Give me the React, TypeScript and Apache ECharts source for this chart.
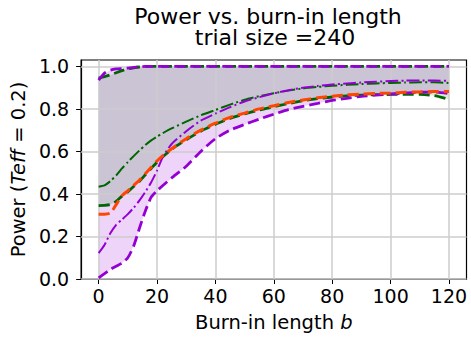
import React, { useEffect, useRef } from 'react';
import * as echarts from 'echarts';

const burnIn = [0, 2, 4, 6, 8, 10, 12, 14, 16, 18, 20, 22, 25, 30, 35, 40, 45, 50, 55, 60, 65, 70, 75, 80, 85, 90, 95, 100, 105, 110, 115, 120];

const greenMean = [0.434, 0.44, 0.46, 0.487, 0.52, 0.55, 0.578, 0.605, 0.63, 0.652, 0.67, 0.686, 0.708, 0.74, 0.77, 0.795, 0.82, 0.843, 0.86, 0.874, 0.886, 0.896, 0.903, 0.909, 0.913, 0.917, 0.92, 0.922, 0.924, 0.925, 0.925, 0.922];
const greenLow = [0.345, 0.346, 0.35, 0.365, 0.39, 0.41, 0.435, 0.46, 0.49, 0.52, 0.55, 0.575, 0.61, 0.655, 0.695, 0.728, 0.755, 0.776, 0.795, 0.81, 0.825, 0.838, 0.848, 0.856, 0.861, 0.865, 0.867, 0.868, 0.869, 0.868, 0.862, 0.845];
const greenHigh = [0.945, 0.952, 0.96, 0.97, 0.98, 0.988, 0.993, 0.997, 0.999, 1, 1, 1, 1, 1, 1, 1, 1, 1, 1, 1, 1, 1, 1, 1, 1, 1, 1, 1, 1, 1, 1, 1];
const purpleMean = [0.122, 0.16, 0.215, 0.255, 0.28, 0.305, 0.335, 0.37, 0.41, 0.455, 0.51, 0.575, 0.635, 0.695, 0.745, 0.778, 0.808, 0.835, 0.855, 0.873, 0.888, 0.9, 0.908, 0.915, 0.92, 0.924, 0.928, 0.931, 0.933, 0.934, 0.933, 0.932];
const purpleLow = [0.005, 0.025, 0.045, 0.06, 0.075, 0.1, 0.155, 0.24, 0.32, 0.385, 0.415, 0.44, 0.475, 0.53, 0.6, 0.66, 0.7, 0.727, 0.752, 0.775, 0.797, 0.812, 0.826, 0.84, 0.85, 0.859, 0.865, 0.87, 0.875, 0.879, 0.879, 0.872];
const purpleHigh = [0.935, 0.968, 0.982, 0.988, 0.99, 0.992, 0.995, 0.998, 1, 1, 1, 1, 1, 1, 1, 1, 1, 1, 1, 1, 1, 1, 1, 1, 1, 1, 1, 1, 1, 1, 1, 1];
const orangeLine = [0.305, 0.305, 0.31, 0.35, 0.392, 0.415, 0.44, 0.465, 0.495, 0.525, 0.555, 0.58, 0.613, 0.66, 0.7, 0.733, 0.76, 0.78, 0.8, 0.815, 0.83, 0.842, 0.852, 0.86, 0.866, 0.87, 0.873, 0.875, 0.878, 0.88, 0.882, 0.882];

const xTicks = [0, 20, 40, 60, 80, 100, 120];
const yTicks = [0, 0.2, 0.4, 0.6, 0.8, 1.0];

const titleLine1 = 'Power vs. burn-in length';
const titleLine2 = 'trial size =240';

const FONT = 'DejaVu Sans';
const GREEN = '#006400';
const PURPLE = '#9400D3';
const ORANGE = '#FF4500';

const pts = (arr: number[]) => burnIn.map((b, i) => [b, arr[i]]);

const DASHED = [11, 5];
const DASHDOT = [12.8, 3.2, 2, 3.2];

function lineSeries(name: string, arr: number[], color: string, dash: number[], width: number, z: number) {
  return {
    name,
    type: 'line',
    data: pts(arr),
    showSymbol: false,
    symbol: 'none',
    smooth: 0.2,
    z,
    lineStyle: { color, width, type: dash, cap: 'butt' },
  };
}

function bandSeries(name: string, lo: number[], hi: number[], fill: string) {
  return {
    name,
    type: 'custom',
    z: 1,
    silent: true,
    data: burnIn.map((b, i) => [b, lo[i], hi[i]]),
    encode: { x: 0, y: [1, 2] },
    renderItem: (params: any, api: any) => {
      if (params.dataIndex !== 0) return null;
      const top = burnIn.map((b, i) => api.coord([b, hi[i]]));
      const bottom = burnIn.map((b, i) => api.coord([b, lo[i]])).reverse();
      return {
        type: 'polygon',
        shape: { points: [...top, ...bottom] },
        style: { fill, stroke: 'none' },
      };
    },
  };
}

export default function App() {
  const ref = useRef<HTMLDivElement>(null);
  useEffect(() => {
    const chart = echarts.init(ref.current!, null, { renderer: 'svg' });
    const option: any = {
      animation: false,
      backgroundColor: '#fff',
      textStyle: { fontFamily: FONT },
      graphic: [
        {
          type: 'text',
          x: 268,
          y: 6,
          style: { text: titleLine1, fill: '#000', font: `22px "${FONT}"`, lineHeight: 21, textAlign: 'center', textVerticalAlign: 'top' },
        },
        {
          type: 'text',
          x: 275,
          y: 27,
          style: { text: titleLine2, fill: '#000', font: `22px "${FONT}"`, lineHeight: 21, textAlign: 'center', textVerticalAlign: 'top' },
        },
      ],
      grid: {
        left: 79,
        top: 60,
        width: 387.5,
        height: 220,
        show: true,
        borderColor: '#000',
        borderWidth: 1.2,
        backgroundColor: 'transparent',
        containLabel: false,
      },
      xAxis: {
        type: 'value',
        min: -6,
        max: 126,
        name: 'Burn-in length {i|b}',
        nameLocation: 'middle',
        nameGap: 33,
        nameTextStyle: {
          fontSize: 19.5,
          color: '#000',
          fontFamily: FONT,
          rich: { i: { fontStyle: 'italic', fontSize: 19.5, color: '#000', fontFamily: FONT } },
        },
        axisLine: { show: true, onZero: false, lineStyle: { color: '#000', width: 1.2 } },
        axisTick: { show: true, length: 5, customValues: xTicks, lineStyle: { color: '#000', width: 1 } },
        axisLabel: { customValues: xTicks, fontSize: 19, color: '#000', fontFamily: FONT, margin: 7 },
        splitLine: { show: false },
      },
      yAxis: {
        type: 'value',
        min: 0,
        max: 1.03,
        name: 'Power ({i|Teff} = 0.2)',
        nameLocation: 'middle',
        nameGap: 48,
        nameTextStyle: {
          fontSize: 19.5,
          color: '#000',
          fontFamily: FONT,
          rich: { i: { fontStyle: 'italic', fontSize: 19.5, color: '#000', fontFamily: FONT } },
        },
        axisLine: { show: true, onZero: false, lineStyle: { color: '#000', width: 1.2 } },
        axisTick: { show: true, length: 5, customValues: yTicks, lineStyle: { color: '#000', width: 1 } },
        axisLabel: {
          customValues: yTicks,
          fontSize: 19,
          color: '#000',
          fontFamily: FONT,
          margin: 12,
          formatter: (v: number) => v.toFixed(1),
        },
        splitLine: { show: false },
      },
      series: [
        bandSeries('purpleBand', purpleLow, purpleHigh, 'rgba(148,0,211,0.17)'),
        bandSeries('greenBand', greenLow, greenHigh, 'rgba(0,100,0,0.14)'),
        {
          name: 'gridlines',
          type: 'line',
          data: [],
          z: 1.5,
          symbol: 'none',
          lineStyle: { color: '#cccccc', width: 1.5, opacity: 1 },
          markLine: {
            silent: true,
            symbol: ['none', 'none'],
            z: 1.5,
            animation: false,
            label: { show: false },
            emphasis: { disabled: true },
            lineStyle: { color: '#cccccc', width: 1.5, type: 'solid', opacity: 1 },
            data: [...xTicks.map((t) => ({ xAxis: t })), ...yTicks.map((t) => ({ yAxis: t }))],
          },
        },
        lineSeries('greenMean', greenMean, GREEN, DASHDOT, 2, 2),
        lineSeries('greenLow', greenLow, GREEN, DASHED, 2.8, 2),
        lineSeries('greenHigh', greenHigh, GREEN, DASHED, 2.8, 2),
        lineSeries('purpleMean', purpleMean, PURPLE, DASHDOT, 2, 3),
        lineSeries('purpleLow', purpleLow, PURPLE, DASHED, 2.8, 3),
        lineSeries('purpleHigh', purpleHigh, PURPLE, DASHED, 2.8, 3),
        lineSeries('orange', orangeLine, ORANGE, DASHED, 3, 4),
      ],
    };
    chart.setOption(option);
    return () => chart.dispose();
  }, []);
  return <div ref={ref} style={{ position: 'fixed', left: 0, top: 0, width: 471, height: 337 }} />;
}
